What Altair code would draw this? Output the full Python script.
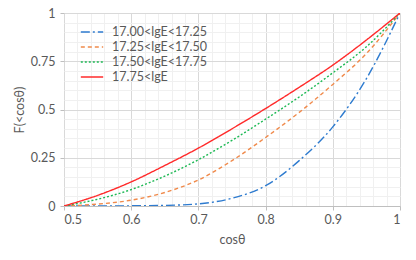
import altair as alt
import pandas as pd

# cos(theta) sample points
cos_theta = [0.5, 0.55, 0.6, 0.65, 0.7, 0.75, 0.8, 0.85, 0.9, 0.95, 1.0]

series_names = ["17.00<lgE<17.25", "17.25<lgE<17.50", "17.50<lgE<17.75", "17.75<lgE"]

f_1700 = [0.0, 0.0, 0.001, 0.003, 0.011, 0.04, 0.105, 0.235, 0.41, 0.66, 1.0]
f_1725 = [0.0, 0.01, 0.03, 0.07, 0.135, 0.235, 0.355, 0.485, 0.63, 0.79, 1.0]
f_1750 = [0.0, 0.035, 0.085, 0.155, 0.24, 0.34, 0.45, 0.565, 0.69, 0.825, 1.0]
f_1775 = [0.0, 0.055, 0.125, 0.21, 0.30, 0.40, 0.505, 0.615, 0.73, 0.86, 1.0]

x_ticks = [round(0.5 + 0.02 * i, 2) for i in range(26)]
y_ticks = [round(0.05 * i, 2) for i in range(21)]

rows = []
for name, vals in zip(series_names, [f_1700, f_1725, f_1750, f_1775]):
    for x, y in zip(cos_theta, vals):
        rows.append({"series": name, "cos": x, "F": y})
df = pd.DataFrame(rows)

colors = ["#2E7BCF", "#F08A4B", "#1DB954", "#FF2A2A"]
dashes = [[9, 3, 2, 3], [4, 3], [2, 2], [1, 0]]

FONT = "Lato"
TXT = "#595959"
FS = 12.5

x_major = "abs(datum.value*10 - round(datum.value*10)) < 0.001"
y_major = "abs(datum.value*4 - round(datum.value*4)) < 0.001"

chart = alt.Chart(df).mark_line(strokeWidth=1.4, interpolate="monotone", clip=True).encode(
    x=alt.X("cos:Q", title="cosθ",
            scale=alt.Scale(domain=[0.5, 1.0], nice=False),
            axis=alt.Axis(values=x_ticks,
                          labelExpr=f"({x_major}) ? format(datum.value, '') : ''",
                          gridColor={"condition": {"test": x_major, "value": "#D9D9D9"}, "value": "#F0F0F0"},
                          tickColor={"condition": {"test": x_major, "value": "#BFBFBF"}, "value": "transparent"},
                          tickSize=4, domainColor="#BFBFBF", labelPadding=3,
                          labelFontSize=FS, labelColor=TXT, labelFont=FONT,
                          titleFontSize=FS, titleColor=TXT, titleFont=FONT, titleFontWeight="normal",
                          titlePadding=8)),
    y=alt.Y("F:Q", title="F(<cosθ)",
            scale=alt.Scale(domain=[0, 1], nice=False),
            axis=alt.Axis(values=y_ticks,
                          labelExpr=f"({y_major}) ? format(datum.value, '') : ''",
                          gridColor={"condition": {"test": y_major, "value": "#D9D9D9"}, "value": "#F0F0F0"},
                          tickColor={"condition": {"test": y_major, "value": "#BFBFBF"}, "value": "transparent"},
                          tickSize=4, domain=False, labelPadding=5,
                          labelFontSize=FS, labelColor=TXT, labelFont=FONT,
                          titleFontSize=FS, titleColor=TXT, titleFont=FONT, titleFontWeight="normal",
                          titlePadding=4)),
    color=alt.Color("series:N", sort=series_names,
                    scale=alt.Scale(domain=series_names, range=colors),
                    legend=alt.Legend(title=None, orient="none", legendX=16, legendY=12,
                                      symbolType="stroke", symbolSize=500, symbolStrokeWidth=1.4,
                                      clipHeight=14, rowPadding=1, labelOffset=8,
                                      labelFontSize=FS, labelColor=TXT, labelFont=FONT)),
    strokeDash=alt.StrokeDash("series:N", sort=series_names,
                              scale=alt.Scale(domain=series_names, range=dashes),
                              legend=None),
).properties(
    width=336, height=193,
    autosize=alt.AutoSizeParams(type="none"),
    padding={"left": 56, "top": 5, "right": 8, "bottom": 48},
).configure_view(stroke=None)

chart.save("out.html", embed_options={"renderer": "svg", "actions": False})
